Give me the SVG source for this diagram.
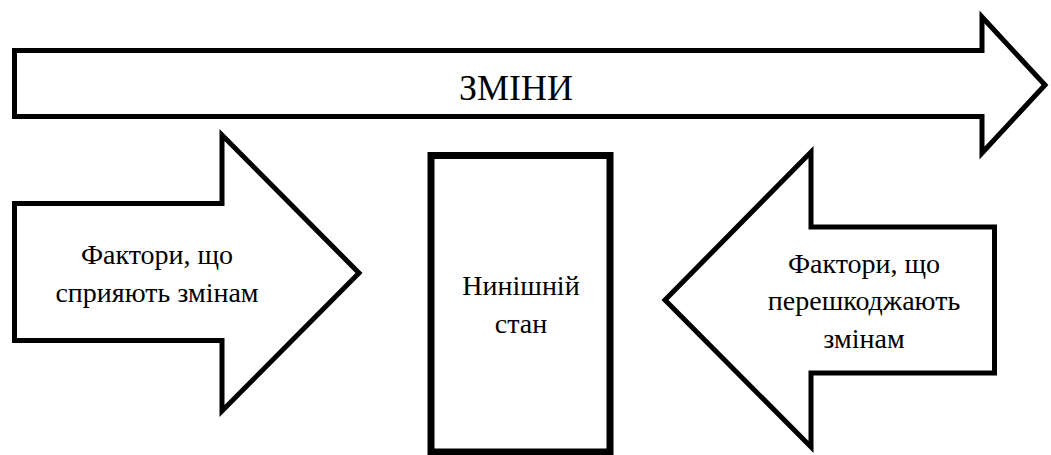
<svg xmlns="http://www.w3.org/2000/svg" width="1051" height="455" viewBox="0 0 1051 455">
  <style>
    .shape { fill: #ffffff; stroke: #000000; stroke-width: 5; stroke-linejoin: miter; stroke-miterlimit: 10; }
    .frame { fill: #ffffff; stroke: #000000; stroke-width: 7; }
    text { font-family: 'Times New Roman', 'Liberation Serif', Tinos, serif; fill: #000000; text-anchor: middle; }
    .cap { font-size: 28px; }
    .big { font-size: 36px; }
  </style>
  <rect width="1051" height="455" fill="#ffffff"/>
  <g id="changes">
    <polygon class="shape" points="14.5,50.5 982,50.5 982,17 1045,85 982,153 982,116.5 14.5,116.5"/>
    <text class="big" x="516" y="100">ЗМІНИ</text>
  </g>
  <g id="driving-forces">
    <polygon class="shape" points="14.5,203.5 222,203.5 222,135 359,273 222,411 222,340.5 14.5,340.5"/>
    <text class="cap" x="157" y="264">Фактори, що</text>
    <text class="cap" x="157" y="302">сприяють змінам</text>
  </g>
  <g id="current-state">
    <rect class="frame" x="431" y="155.5" width="179" height="296.5"/>
    <text class="cap" x="521" y="295">Нинішній</text>
    <text class="cap" x="521" y="333">стан</text>
  </g>
  <g id="restraining-forces">
    <polygon class="shape" points="994.5,227 811,227 811,152 665,300 811,447 811,373 994.5,373"/>
    <text class="cap" x="864" y="273">Фактори, що</text>
    <text class="cap" x="864" y="310">перешкоджають</text>
    <text class="cap" x="864" y="348">змінам</text>
  </g>
</svg>
